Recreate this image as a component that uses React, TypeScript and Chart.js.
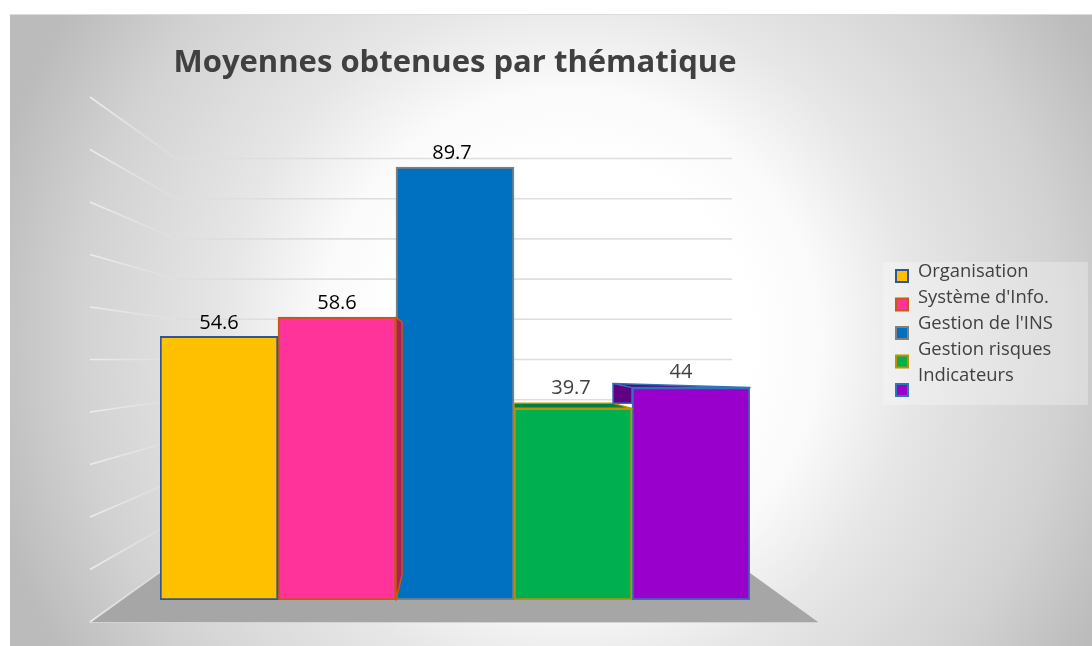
import React, { useEffect, useRef } from "react";
import { Chart, registerables } from "chart.js";

Chart.register(...registerables);

const titleText = "Moyennes obtenues par thématique";
const categories = ["Thématiques"];
const seriesNames = ["Organisation", "Système d'Info.", "Gestion de l'INS", "Gestion risques", "Indicateurs"];
const seriesValues = [54.6, 58.6, 89.7, 39.7, 44];
const fillColors = ["#FFC000", "#FF3399", "#0070C0", "#00B050", "#9900CC"];
const borderColors = ["#2F5597", "#C55A11", "#7F7F7F", "#BF9000", "#2E75B6"];
const labelColors = ["#000000", "#000000", "#000000", "#404040", "#404040"];
const wallTicks = [0, 10, 20, 30, 40, 50, 60, 70, 80, 90, 100];

const FONT = '"Open Sans", sans-serif';

const backdrop = {
  id: "backdrop",
  beforeDraw(chart: any) {
    const { ctx, width, height } = chart;
    const x0 = 10, y0 = 14, w = width - 10, h = height - y0;
    ctx.save();
    ctx.beginPath();
    ctx.rect(x0, y0, w, h);
    ctx.clip();
    ctx.translate(570, 340);
    const g = ctx.createRadialGradient(0, 0, 0, 0, 0, 600);
    g.addColorStop(0, "#ffffff");
    g.addColorStop(0.3, "#ffffff");
    g.addColorStop(0.42, "#fafafa");
    g.addColorStop(0.5, "#f0f0f0");
    g.addColorStop(0.58, "#e6e6e6");
    g.addColorStop(0.7, "#dcdcdc");
    g.addColorStop(0.82, "#d2d2d2");
    g.addColorStop(1, "#bbbbbb");
    ctx.fillStyle = g;
    ctx.fillRect(-700, -700, 1500, 1500);
    ctx.restore();
    ctx.fillStyle = "#dcdcdc";
    ctx.fillRect(x0, y0, w, 1);
  },
  beforeDatasetsDraw(chart: any) {
    const { ctx } = chart;
    const wall = chart.scales.wall;
    const y = chart.scales.y;
    const base = y.getPixelForValue(0);
    // floor
    ctx.save();
    ctx.fillStyle = "#A6A6A6";
    ctx.beginPath();
    ctx.moveTo(90, base + 22);
    ctx.lineTo(818, base + 22);
    ctx.lineTo(750, base - 27);
    ctx.lineTo(160, base - 27);
    ctx.closePath();
    ctx.fill();
    ctx.fillStyle = "#d4d4d4";
    ctx.fillRect(90, base + 22, 728, 1);
    // back-wall grid
    ctx.lineWidth = 1.6;
    const p0 = wall.getPixelForValue(0);
    const p100 = wall.getPixelForValue(100);
    wallTicks.forEach((t) => {
      const py = wall.getPixelForValue(t);
      const leftY = base + 22 - ((p0 - py) * 525) / (p0 - p100);
      const g = ctx.createLinearGradient(90, 0, 176, 0);
      g.addColorStop(0, "rgba(238,238,238,0.95)");
      g.addColorStop(1, "rgba(228,228,228,0.3)");
      ctx.strokeStyle = g;
      ctx.beginPath();
      ctx.moveTo(90, leftY);
      ctx.lineTo(176, py);
      ctx.stroke();
      ctx.strokeStyle = "#dedede";
      ctx.beginPath();
      ctx.moveTo(176, py);
      ctx.lineTo(732, py);
      ctx.stroke();
    });
    ctx.restore();
  },
  afterDatasetsDraw(chart: any) {
    const { ctx } = chart;
    const els = seriesValues.map((_, i) => chart.getDatasetMeta(i).data[0]);
    const poly = (pts: number[][], fill: string, stroke: string) => {
      ctx.beginPath();
      pts.forEach((p, i) => (i ? ctx.lineTo(p[0], p[1]) : ctx.moveTo(p[0], p[1])));
      ctx.closePath();
      ctx.fillStyle = fill;
      ctx.fill();
      ctx.strokeStyle = stroke;
      ctx.lineWidth = 1.5;
      ctx.stroke();
    };
    ctx.save();
    ctx.lineJoin = "round";
    // pink: right side and top
    const pink = els[1];
    const pr = pink.x + pink.width / 2;
    poly([[pr, pink.y], [pr + 6, pink.y + 5], [pr + 6, pink.base - 25], [pr, pink.base]], "#A81F5C", borderColors[1]);
    // green: top
    const green = els[3];
    const gl = green.x - green.width / 2;
    const gr = green.x + green.width / 2;
    poly([[gl, green.y - 5], [gr - 19, green.y - 5], [gr, green.y], [gl, green.y]], "#007F3C", borderColors[3]);
    // purple: left side and top
    const pur = els[4];
    const ul = pur.x - pur.width / 2;
    const ur = pur.x + pur.width / 2;
    poly([[ul - 19, pur.y - 4], [ur, pur.y], [ul, pur.y]], "#5F0085", borderColors[4]);
    poly([[ul - 19, pur.y - 4], [ul, pur.y], [ul, green.y - 5], [ul - 19, green.y - 5]], "#5F0085", borderColors[4]);
    // value labels
    ctx.font = `20px ${FONT}`;
    ctx.textAlign = "center";
    ctx.textBaseline = "middle";
    const shifts = [0, 0, -3, -2, -10];
    const lifts = [13.5, 14, 13.5, 20.5, 15];
    els.forEach((el, i) => {
      ctx.fillStyle = labelColors[i];
      ctx.fillText(String(seriesValues[i]), el.x + shifts[i], el.y - lifts[i]);
    });
    ctx.restore();
  },
  afterDraw(chart: any) {
    const { ctx } = chart;
    ctx.save();
    ctx.fillStyle = "rgba(255,255,255,0.28)";
    ctx.fillRect(883, 262, 205, 143);
    ctx.font = `18.4px ${FONT}`;
    ctx.textAlign = "left";
    ctx.textBaseline = "middle";
    seriesNames.forEach((name, i) => {
      const by = 276 + i * 28.5;
      ctx.fillStyle = fillColors[i];
      ctx.strokeStyle = borderColors[i];
      ctx.lineWidth = 2;
      ctx.fillRect(896, by - 6, 12, 12);
      ctx.strokeRect(896, by - 6, 12, 12);
      ctx.fillStyle = "#404040";
      ctx.fillText(name, 918, 271.5 + i * 26);
    });
    ctx.restore();
  },
};

export default function App() {
  const ref = useRef<HTMLCanvasElement>(null);
  useEffect(() => {
    const chart = new Chart(ref.current as HTMLCanvasElement, {
      type: "bar",
      data: {
        labels: categories,
        datasets: seriesNames.map((name, i) => ({
          label: name,
          data: [seriesValues[i]],
          backgroundColor: fillColors[i],
          borderColor: borderColors[i],
          borderWidth: 2,
          borderSkipped: false,
          barPercentage: 1,
          categoryPercentage: 1,
        })),
      },
      options: {
        responsive: false,
        animation: false,
        layout: { padding: { left: 160, right: 342, bottom: 46, top: 0 } },
        scales: {
          x: { display: false },
          y: { display: false, min: 0, max: 100 },
          wall: { display: false, axis: "y", min: -9.83, max: 110.25 },
        },
        plugins: {
          legend: { display: false },
          tooltip: { enabled: false },
          title: {
            display: true,
            text: titleText,
            color: "#404040",
            align: "center",
            font: { family: FONT, size: 31, weight: "bold", lineHeight: 1.2 },
            padding: { top: 45, bottom: 35.1 },
          },
        },
      } as any,
      plugins: [backdrop],
    });
    return () => chart.destroy();
  }, []);
  return (
    <div style={{ position: "absolute", left: 0, top: 0, width: 1092, height: 646 }}>
      <canvas ref={ref} width={1092} height={646} style={{ display: "block" }} />
    </div>
  );
}
